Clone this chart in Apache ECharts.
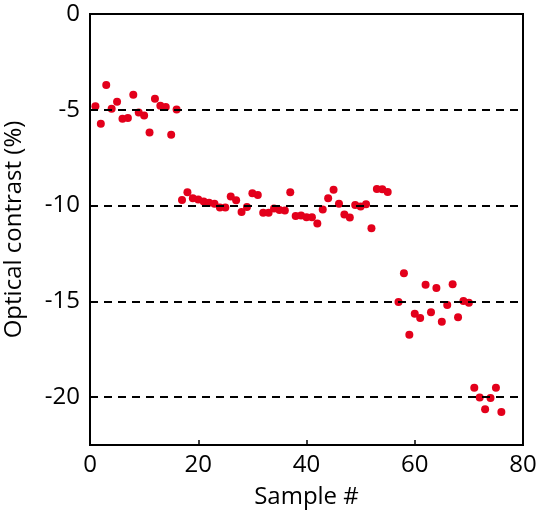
<!DOCTYPE html>
<html>
<head>
<meta charset="utf-8">
<script src="https://cdn.jsdelivr.net/npm/echarts@6/dist/echarts.min.js"></script>
<style>
  html, body { margin: 0; padding: 0; background: #fff; }
  #chart { width: 545px; height: 515px; }
</style>
</head>
<body>
<div id="chart"></div>
<script>
// sample numbers and measured optical contrast (%)
const sampleNo = [
  1, 2, 3, 4, 5, 6, 7, 8, 9, 10, 11, 12, 13, 14, 15, 16,
  17, 18, 19, 20, 21, 22, 23, 24, 25, 26, 27, 28, 29, 30, 31, 32, 33, 34, 35, 36, 37, 38,
  39, 40, 41, 42, 43, 44, 45, 46, 47, 48, 49, 50, 51, 52, 53, 54, 55,
  57, 58, 59, 60, 61, 62, 63, 64, 65, 66, 67, 68, 69, 70,
  71, 72, 73, 74, 75, 76
]
const contrast = [
  -4.81, -5.73, -3.70, -4.95, -4.58, -5.47, -5.43, -4.22, -5.14, -5.30, -6.18, -4.43, -4.79, -4.86, -6.30, -4.98,
  -9.71, -9.31, -9.62, -9.69, -9.79, -9.86, -9.91, -10.10, -10.10, -9.53, -9.72, -10.33, -10.07, -9.36, -9.45, -10.38, -10.38, -10.16, -10.23, -10.26, -9.31, -10.54,
  -10.52, -10.61, -10.61, -10.94, -10.21, -9.62, -9.17, -9.91, -10.47, -10.63, -9.97, -10.05, -9.93, -11.18, -9.13, -9.15, -9.29,
  -15.04, -13.54, -16.74, -15.65, -15.87, -14.13, -15.57, -14.31, -16.06, -15.19, -14.11, -15.83, -14.98, -15.07,
  -19.51, -20.02, -20.64, -20.05, -19.51, -20.78
]
const yTicks = [0, -5, -10, -15, -20]
const refLines = [-5, -10, -15, -20]

const chart = echarts.init(document.getElementById('chart'))
const font = '"Open Sans", sans-serif'

const points = sampleNo.map((x, i) => [x, contrast[i]])

const option = {
  animation: false,
  grid: {
    left: 90,
    right: 22,
    top: 14,
    bottom: 70,
    outerBoundsMode: 'none',
    containLabel: false,
    show: true,
    borderColor: '#000',
    borderWidth: 2
  },
  xAxis: {
    type: 'value',
    min: 0,
    max: 80,
    interval: 20,
    name: 'Sample #',
    nameLocation: 'middle',
    nameGap: 40,
    nameTextStyle: { fontFamily: font, fontSize: 24, color: '#000' },
    axisLine: { onZero: false, lineStyle: { color: '#000', width: 2 } },
    axisTick: { inside: true, length: 5, lineStyle: { color: '#000', width: 1.5 } },
    axisLabel: { fontFamily: font, fontSize: 24, color: '#000', margin: 8 },
    splitLine: { show: false }
  },
  yAxis: {
    type: 'value',
    min: -22.5,
    max: 0,
    name: 'Optical contrast (%)',
    nameLocation: 'middle',
    nameGap: 64,
    nameRotate: 90,
    nameTextStyle: { fontFamily: font, fontSize: 24, color: '#000' },
    axisLine: { onZero: false, lineStyle: { color: '#000', width: 2 } },
    axisTick: { inside: true, length: 5, customValues: yTicks, lineStyle: { color: '#000', width: 1.5 } },
    axisLabel: { fontFamily: font, fontSize: 24, color: '#000', margin: 10, customValues: yTicks },
    splitLine: { show: false }
  },
  series: [
    {
      type: 'scatter',
      data: points,
      symbolSize: 8,
      itemStyle: { color: '#e3001b', opacity: 1 },
      markLine: {
        silent: true,
        symbol: 'none',
        label: { show: false },
        lineStyle: { color: '#000', type: [8, 6], width: 2 },
        data: refLines.map(v => ({ yAxis: v }))
      },
      z: 3
    }
  ]
}

chart.setOption(option)
</script>
</body>
</html>
